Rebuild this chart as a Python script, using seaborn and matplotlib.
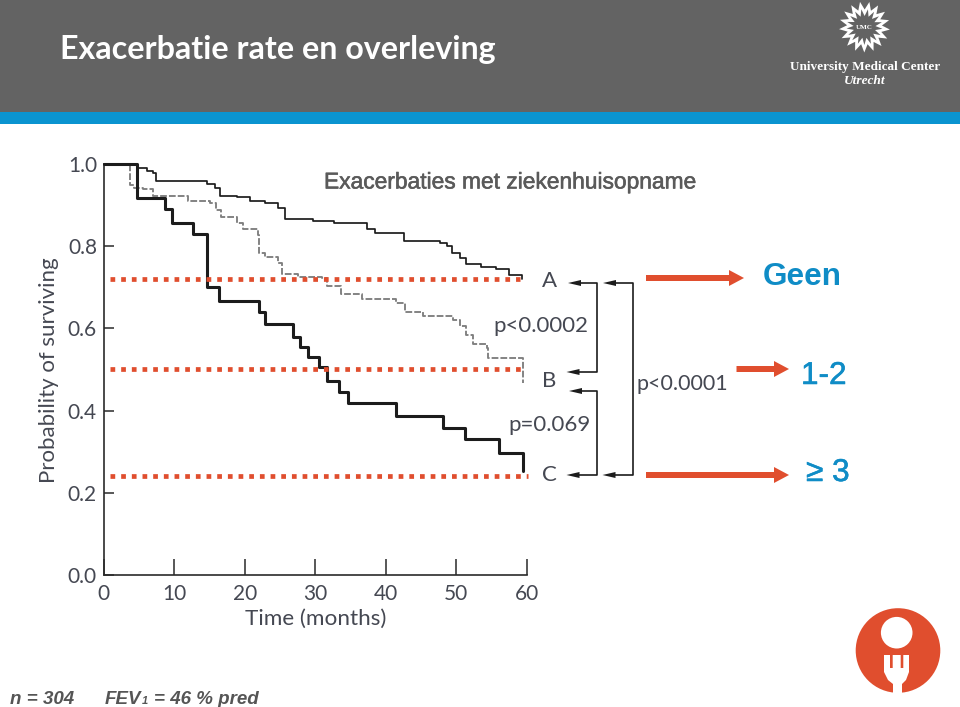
import numpy as np
import pandas as pd
import matplotlib
matplotlib.use("Agg")
import matplotlib.pyplot as plt
import matplotlib.patheffects as pe
from matplotlib.patches import Rectangle, Circle, Polygon, FancyArrow
import seaborn as sns

# ---- data ----
t_a = [0, 4.7, 6.1, 7.0, 7.5, 14.6, 15.8, 16.5, 18.9, 20.7, 22.9, 24.7, 25.7, 29.7, 32.6, 37.4, 38.5,
       42.6, 47.7, 48.7, 49.4, 50.5, 51.3, 53.5, 55.6, 57.5, 59.3]
s_a = [1.0, .990, .984, .978, .959, .951, .942, .922, .919, .910, .904, .893, .866, .862, .856, .841, .833,
       .813, .808, .800, .784, .771, .757, .749, .745, .731, .720]
t_b = [0, 3.8, 4.3, 5.6, 7.0, 12.0, 15.1, 16.0, 16.7, 18.9, 19.8, 21.9, 22.0, 22.9, 24.7, 25.3, 27.5, 31.0,
       31.6, 33.7, 36.6, 41.5, 42.7, 45.2, 49.5, 50.5, 51.4, 52.3, 54.3, 54.5, 59.5]
s_b = [1.0, .950, .942, .939, .922, .911, .904, .888, .870, .857, .842, .827, .784, .774, .759, .732, .726, .722,
       .703, .684, .672, .662, .640, .630, .620, .606, .584, .562, .553, .528, .467]
t_c = [0, 4.7, 8.7, 9.7, 12.7, 14.6, 16.4, 22.1, 22.9, 26.9, 27.8, 29.0, 30.6, 31.7, 33.4, 34.7, 41.4, 48.1,
       51.2, 56.0, 59.5]
s_c = [1.0, .917, .890, .856, .829, .700, .667, .641, .611, .580, .555, .531, .507, .473, .446, .418, .388, .357,
       .331, .298, .254]

median_levels = [.719, .501, .242]
median_starts = [0.9, 0.9, 0.9]
median_ends = [59.0, 59.2, 60.1]

x_ticks = [0, 10, 20, 30, 40, 50, 60]
y_ticks = [0.0, 0.2, 0.4, 0.6, 0.8, 1.0]
y_tick_labels = ["0.0", "0.2", "0.4", "0.6", "0.8", "1.0"]
x_label = "Time (months)"
y_label = "Probability of surviving"
title = "Exacerbatie rate en overleving"
subtitle = "Exacerbaties met ziekenhuisopname"
groups = ["Geen", "1-2", "\u2265 3"]
curve_names = ["A", "B", "C"]

# ---- styles ----
sns.set_theme(style="white")
plt.rcParams["font.family"] = ["Lato", "DejaVu Sans"]
W, H = 960, 707
GRAY = "#636363"
BLUE = "#0a94d0"
RED = "#e04e2e"
TXT = "#454852"
DARK = "#1c1c1c"

fig = plt.figure(figsize=(W / 100, H / 100), dpi=100, facecolor="white")

# page layer in pixel coordinates
bg = fig.add_axes([0, 0, 1, 1], zorder=0)
bg.set_xlim(0, W)
bg.set_ylim(H, 0)
bg.axis("off")

# chart axes
ax = fig.add_axes([103.5 / W, (H - 575) / H, 423.5 / W, 411 / H], zorder=1)
ax.patch.set_alpha(0)
ax.set_xlim(0, 60)
ax.set_ylim(0, 1)

def curve(t, s, **kw):
    df = pd.DataFrame({"t": t, "s": s})
    sns.lineplot(data=df, x="t", y="s", drawstyle="steps-post", estimator=None,
                 sort=False, ax=ax, clip_on=False, **kw)

curve(t_a, s_a, color=DARK, lw=1.25, zorder=3)
curve(t_b, s_b, color="#7f7f7f", lw=1.35, linestyle=(0, (3.6, 1.1)), zorder=3)
curve(t_c, s_c, color=DARK, lw=2.2, zorder=4)

for lev, a, b in zip(median_levels, median_starts, median_ends):
    ax.plot([a, b], [lev, lev], color=RED, lw=3.4, linestyle=(0, (1, 1.26)),
            dash_capstyle="butt", zorder=5, clip_on=False)

for side in ["top", "right"]:
    ax.spines[side].set_visible(False)
for side in ["left", "bottom"]:
    ax.spines[side].set_linewidth(1.2)
    ax.spines[side].set_color("#2a2a2a")
ax.set_xticks(x_ticks)
ax.set_yticks(y_ticks)
ax.set_yticklabels(y_tick_labels)
ax.tick_params(axis="x", bottom=True, direction="in", length=11.5, width=1.1, color="#2a2a2a",
               pad=6.5, labelsize=15, labelcolor=TXT)
ax.tick_params(axis="y", left=True, direction="in", length=7.2, width=1.1, color="#2a2a2a",
               pad=4.7, labelsize=15, labelcolor=TXT)
ax.set_xlabel("")
ax.set_ylabel("")

# header
bg.add_patch(Rectangle((0, 0), W, 112, color=GRAY, lw=0))
bg.add_patch(Rectangle((0, 112), W, 12, color=BLUE, lw=0))
bg.text(60, 50, title, color="white", fontsize=23.2, fontweight="bold",
        family=["Lato", "DejaVu Sans"], va="center", ha="left")

# UMC logo
cx, cy = 864.5, 27
n_teeth = 17
ang = np.linspace(0, 2 * np.pi, 2 * n_teeth, endpoint=False) + 0.1
idx = np.arange(2 * n_teeth)
r_out = np.where(idx % 2 == 0, 25.5, 17.5)
r_in = np.where(idx % 2 == 0, 18, 11)
bg.add_patch(Polygon(np.c_[cx + r_out * np.cos(ang), cy + r_out * np.sin(ang)], color="white", lw=0))
bg.add_patch(Polygon(np.c_[cx + r_in * np.cos(ang), cy + r_in * np.sin(ang)], color=GRAY, lw=0))
bg.text(cx, cy + 0.5, "UMC", color="white", fontsize=5, family="Liberation Serif",
        fontweight="bold", ha="center", va="center")
bg.text(865, 67, "University Medical Center", color="white", fontsize=9.5,
        family="Liberation Serif", fontweight="bold", ha="center", va="center")
bg.text(865, 81.5, "Utrecht", color="white", fontsize=9.6, family="Liberation Serif",
        fontweight="bold", style="italic", ha="center", va="center")

# texts
bg.text(324, 182, subtitle, color="#5a5a5a", fontsize=16.4, family="Liberation Sans",
        va="center", ha="left",
        path_effects=[pe.withStroke(linewidth=0.4, foreground="#5a5a5a")])
bg.text(49, 370, y_label, rotation=90, color=TXT, fontsize=16, ha="center", va="center")
bg.text(316, 619, x_label, color=TXT, fontsize=16.2, ha="center", va="center")
for name, yy in zip(curve_names, [281, 381, 475]):
    bg.text(549, yy, name, color=TXT, fontsize=16, ha="center", va="center")
bg.text(493, 326, "p<0.0002", color=TXT, fontsize=16, ha="left", va="center")
bg.text(508, 425, "p=0.069", color=TXT, fontsize=16, ha="left", va="center")
bg.text(637, 383.5, "p<0.0001", color=TXT, fontsize=15.5, ha="left", va="center")

# brackets
def bracket(x_tip1, y1, x_mid, y2, x_tip2):
    bg.plot([x_tip1 + 6, x_mid, x_mid, x_tip2 + 6], [y1, y1, y2, y2], color=DARK, lw=1.2, zorder=2)
    for xt, yy in [(x_tip1, y1), (x_tip2, y2)]:
        bg.add_patch(Polygon([(xt, yy), (xt + 13, yy - 3), (xt + 13, yy + 3)], color=DARK, lw=0, zorder=3))

bracket(568, 283, 596.5, 372, 566.5)
bracket(569, 391, 596.5, 475, 566.5)
bracket(603, 283, 633, 475, 602.5)

# red arrows
for x0, x1, yy in [(646, 744, 278), (736.5, 789, 369), (646, 789, 475)]:
    bg.add_patch(FancyArrow(x0, yy, x1 - x0, 0, width=6, head_width=16, head_length=15,
                            length_includes_head=True, color=RED, lw=0))

# group labels
blue_txt = "#0f8cc6"
for lab, x0, yy in zip(groups, [763, 801, 806], [277, 376, 473]):
    is_bold = lab == "Geen"
    bg.text(x0, yy, lab, color=blue_txt, fontsize=22.7, fontweight="bold" if is_bold else "normal",
            family="Liberation Sans", ha="left", va="center",
            path_effects=[] if is_bold else [pe.withStroke(linewidth=0.4, foreground=blue_txt)])

# footer
foot = dict(color="#555555", fontsize=13.5, family="Liberation Sans", fontweight="bold",
            style="italic", va="baseline", ha="left")
bg.text(10, 704, "n = 304", **foot)
bg.text(105, 704, "FEV", **foot)
bg.text(141.5, 704.5, "1", **{**foot, "fontsize": 8})
bg.text(154, 704, "= 46 % pred", **foot)

# fork logo
bg.add_patch(Circle((898, 650.5), 42.3, color=RED, lw=0))
bg.add_patch(Circle((896.7, 632.7), 15.8, color="white", lw=0))
fork = [(884, 655), (890, 655), (890, 668), (892.7, 668), (892.7, 655), (900.7, 655), (900.7, 668), (903.3, 668),
        (903.3, 655), (909, 655), (909, 672), (906, 680), (902, 684), (902, 693), (893, 693), (893, 684),
        (888, 680), (884, 672)]
bg.add_patch(Polygon(fork, color="white", lw=0))

fig.savefig("out.png", dpi=100)
